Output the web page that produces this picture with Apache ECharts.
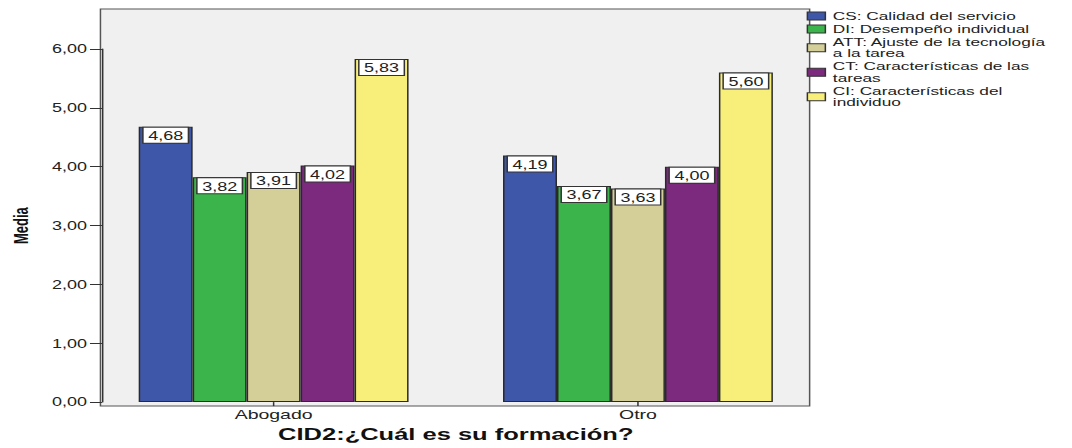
<!DOCTYPE html>
<html>
<head>
<meta charset="utf-8">
<title>Medias por formación</title>
<script src="https://cdn.jsdelivr.net/npm/echarts@6.0.0/dist/echarts.min.js"></script>
<style>
  html, body { margin: 0; padding: 0; background: #fff; overflow: hidden; }
  /* the reference picture is stretched sideways, so the chart is drawn narrow and scaled */
  #chart { width: 715px; height: 448px; transform: scaleX(1.4993); transform-origin: 0 0; }
</style>
</head>
<body>
<div id="chart"></div>
<script>
// categories on the x axis
const categories = ['Abogado', 'Otro']
// legend names, one per series
const seriesNames = [
  'CS: Calidad del servicio',
  'DI: Desempeño individual',
  'ATT: Ajuste de la tecnología\na la tarea',
  'CT: Características de las\ntareas',
  'CI: Características del\nindividuo'
]
// means per category
const csValues = [4.68, 4.19]
const diValues = [3.82, 3.67]
const attValues = [3.91, 3.63]
const ctValues = [4.02, 4.00]
const ciValues = [5.83, 5.60]
// y axis ticks
const yMin = 0
const yMax = 6
const yStep = 1

const colors = ['#3f57a8', '#3bb54b', '#d4cf98', '#7b2a7d', '#f8ee7a']
const allValues = [csValues, diValues, attValues, ctValues, ciValues]
const font = 'Liberation Sans, Arial, sans-serif'

function comma(v) {
  return Number(v).toFixed(2).replace('.', ',')
}

let chart = echarts.init(document.getElementById('chart'), null, { renderer: 'svg' })

let series = []
for (let i = 0; i < seriesNames.length; i++) {
  series.push({
    name: seriesNames[i],
    type: 'bar',
    data: allValues[i],
    barWidth: 36,
    barGap: '0%',
    itemStyle: {
      color: colors[i],
      borderColor: '#2a2a2a',
      borderWidth: 1
    },
    label: {
      show: true,
      position: 'insideTop',
      distance: 1,
      formatter: p => comma(p.value),
      backgroundColor: '#fff',
      borderColor: '#333',
      borderWidth: 1,
      padding: [2, 3, 1, 3],
      fontFamily: font,
      fontSize: 12,
      color: '#222'
    }
  })
}

let option = {
  animation: false,
  color: colors,
  graphic: [
    {
      // plot frame
      type: 'rect',
      z: -1,
      shape: { x: 67, y: 9, width: 473, height: 397 },
      style: { fill: '#f0f0f0', stroke: '#555', lineWidth: 1 }
    }
  ],
  legend: {
    orient: 'vertical',
    left: 538,
    top: 10,
    padding: 0,
    itemWidth: 12,
    itemHeight: 8,
    itemGap: 1,
    icon: 'rect',
    itemStyle: { borderColor: '#333', borderWidth: 1 },
    textStyle: {
      fontFamily: font,
      fontSize: 11.5,
      lineHeight: 11.5,
      color: '#222'
    },
    data: seriesNames
  },
  grid: {
    left: 60,
    right: 168,
    top: 49,
    bottom: 42
  },
  xAxis: {
    type: 'category',
    data: categories,
    axisLine: { show: false },
    axisTick: { show: true, alignWithLabel: true, length: 4, lineStyle: { color: '#333' } },
    axisLabel: { fontFamily: font, fontSize: 13, color: '#222', margin: 6 },
    name: 'CID2:¿Cuál es su formación?',
    nameLocation: 'middle',
    nameGap: 21,
    nameTextStyle: { fontFamily: font, fontSize: 17, fontWeight: 'bold', color: '#111' }
  },
  yAxis: {
    type: 'value',
    min: yMin,
    max: yMax,
    interval: yStep,
    offset: -7,
    axisLine: { show: true, lineStyle: { color: '#333', width: 1 } },
    axisTick: { show: true, length: 8, lineStyle: { color: '#333' } },
    splitLine: { show: false },
    axisLabel: { formatter: v => comma(v), fontFamily: font, fontSize: 12, color: '#222', margin: 10 },
    name: 'Media',
    nameLocation: 'middle',
    nameRotate: 90,
    nameGap: 47,
    nameTextStyle: { fontFamily: font, fontSize: 13, fontWeight: 'bold', color: '#111' }
  },
  series: series
}

chart.setOption(option)
</script>
</body>
</html>
